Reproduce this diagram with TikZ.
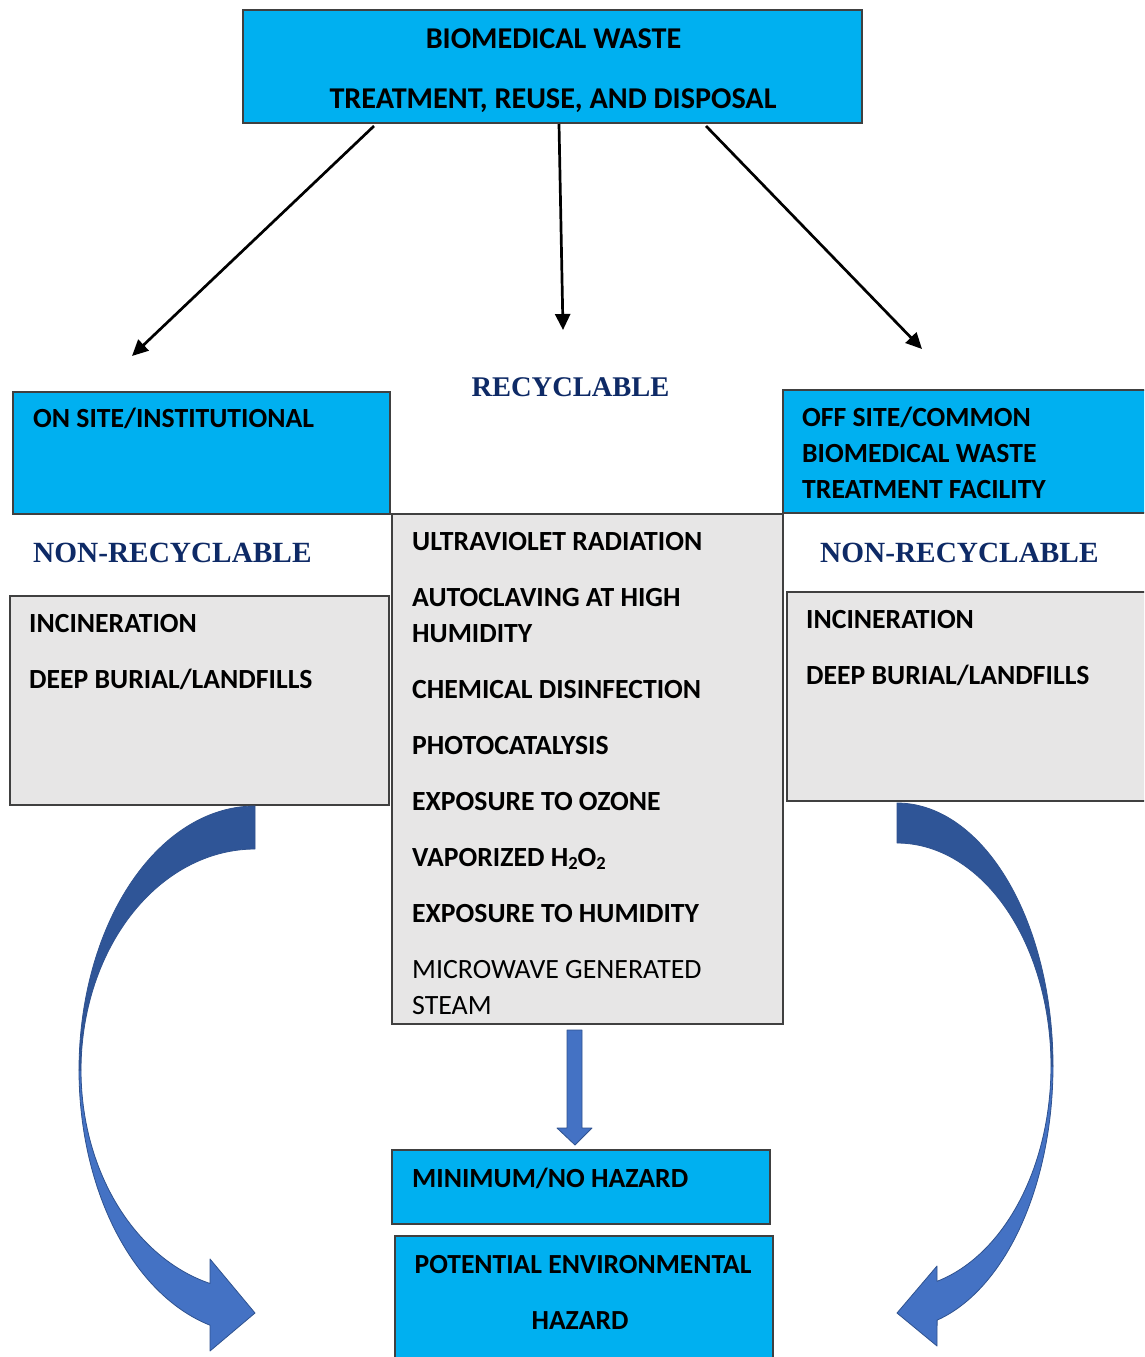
\documentclass[tikz,border=0pt]{standalone}
\usepackage{fontspec}
\setmainfont{Carlito}
\newfontfamily\timesb{Liberation Serif}
\usetikzlibrary{arrows.meta}
\definecolor{cyanbox}{HTML}{00B0F0}
\definecolor{graybox}{HTML}{E7E6E6}
\definecolor{navy}{HTML}{0E2A66}
\definecolor{bluearrow}{HTML}{4472C4}
\definecolor{darkarrow}{HTML}{2F5597}
\definecolor{arrowline}{HTML}{2F528F}
\definecolor{boxline}{HTML}{404040}
\begin{document}
\begin{tikzpicture}[x=1pt,y=-1pt,
  cbox/.style={rectangle,fill=cyanbox,draw=boxline,line width=1.2pt,anchor=north west,inner sep=0pt,outer sep=0pt},
  gbox/.style={rectangle,fill=graybox,draw=boxline,line width=1.2pt,anchor=north west,inner sep=0pt,outer sep=0pt},
  lbl/.style={anchor=base west,inner sep=0pt,font=\fontsize{27.7}{32}\selectfont\bfseries},
  rlbl/.style={anchor=base west,inner sep=0pt,font=\fontsize{27.9}{32}\selectfont},
  clbl/.style={anchor=base,inner sep=0pt,font=\fontsize{27.6}{32}\selectfont\bfseries},
  tlbl/.style={anchor=base,inner sep=0pt,font=\fontsize{30.2}{34}\selectfont\bfseries},
  slbl/.style={inner sep=0pt,text=navy,font=\timesb\fontsize{28.5}{34}\selectfont\bfseries},
  thin arrow/.style={draw=black,line width=2.7pt,-{Triangle[length=16pt,width=15pt]}},
  band dark/.style={fill=darkarrow,draw=arrowline,line width=0.8pt,line join=round},
  band light/.style={fill=bluearrow,draw=arrowline,line width=0.8pt,line join=round}]
\clip (0,0) rectangle (1144,1357);
\fill[white] (0,0) rectangle (1144,1357);

% boxes
\node[cbox,minimum width=619pt,minimum height=113pt] (top) at (243,10) {};
\node[cbox,minimum width=377pt,minimum height=122pt] (onsite) at (13,392) {};
\node[cbox,minimum width=380pt,minimum height=123pt] (offsite) at (783,390) {};
\node[gbox,minimum width=379pt,minimum height=209pt] (leftgray) at (10,596) {};
\node[gbox,minimum width=391pt,minimum height=510pt] (centergray) at (392,514) {};
\node[gbox,minimum width=380pt,minimum height=209pt] (rightgray) at (787,592) {};
\node[cbox,minimum width=378pt,minimum height=74pt] (minhaz) at (392,1150) {};
\node[cbox,minimum width=378pt,minimum height=140pt] (pothaz) at (395,1236) {};

% top text
\node[tlbl] (t1) at (553.5,48) {BIOMEDICAL WASTE};
\node[tlbl] (t2) at (553,108) {TREATMENT, REUSE, AND DISPOSAL};

% thin arrows
\coordinate (s1) at (374,126);
\coordinate (s2) at (559,124);
\coordinate (s3) at (706,126);
\coordinate (e1) at (132,356);
\coordinate (e2) at (563,330);
\coordinate (e3) at (922,349);
\draw[thin arrow] (s1) -- (e1);
\draw[thin arrow] (s2) -- (e2);
\draw[thin arrow] (s3) -- (e3);

% headings
\node[slbl,anchor=base] (rec) at (570.5,396) {RECYCLABLE};
\node[slbl,anchor=base west,font=\timesb\fontsize{29.3}{34}\selectfont\bfseries] (nrl) at (33,562) {NON-RECYCLABLE};
\node[slbl,anchor=base west,font=\timesb\fontsize{29.3}{34}\selectfont\bfseries] (nrr) at (820,562) {NON-RECYCLABLE};

% on site / off site
\node[lbl] (os) at (33,427) {ON SITE/INSTITUTIONAL};
\node[lbl] (of1) at (802,426) {OFF SITE/COMMON};
\node[lbl] (of2) at (802,462) {BIOMEDICAL WASTE};
\node[lbl] (of3) at (802,498) {TREATMENT FACILITY};

% left gray
\node[lbl] (li1) at (29,632) {INCINERATION};
\node[lbl] (li2) at (29,688) {DEEP BURIAL/LANDFILLS};
% right gray
\node[lbl] (ri1) at (806,628) {INCINERATION};
\node[lbl] (ri2) at (806,684) {DEEP BURIAL/LANDFILLS};

% center gray
\node[lbl] (c1) at (412,550) {ULTRAVIOLET RADIATION};
\node[lbl] (c2) at (412,606) {AUTOCLAVING AT HIGH};
\node[lbl] (c2b) at (412,642) {HUMIDITY};
\node[lbl] (c3) at (412,698) {CHEMICAL DISINFECTION};
\node[lbl] (c4) at (412,754) {PHOTOCATALYSIS};
\node[lbl] (c5) at (412,810) {EXPOSURE TO OZONE};
\node[lbl] (c6) at (412,866) {VAPORIZED H\raisebox{-0.12em}{\fontsize{18.5}{18}\selectfont 2}O\raisebox{-0.12em}{\fontsize{18.5}{18}\selectfont 2}};
\node[lbl] (c7) at (412,922) {EXPOSURE TO HUMIDITY};
\node[rlbl] (c8) at (412,978) {MICROWAVE GENERATED};
\node[rlbl] (c8b) at (412,1014) {STEAM};

% bottom boxes text
\node[lbl] (mh) at (412,1187) {MINIMUM/NO HAZARD};
\node[clbl] (ph1) at (583,1273) {POTENTIAL ENVIRONMENTAL};
\node[clbl] (ph2) at (580,1329) {HAZARD};

% block arrow down
\fill[band light] (567,1030) -- (582,1030) -- (582,1128) -- (592,1128) -- (575,1145) -- (557,1128) -- (567,1128) -- cycle;

% left curved arrow
\path[band light] plot[domain=180:104.8,samples=50] ({255+176*cos(\x)},{1070+264*sin(\x)})
  -- (210,1351) -- (255,1313) -- (210,1259) -- (210,1283.5)
  -- plot[domain=105:180,samples=50] ({255+174*cos(\x)},{1070+221*sin(\x)}) -- cycle;
\path[band dark] plot[domain=270:180,samples=60] ({255+176*cos(\x)},{1070+264*sin(\x)})
  -- plot[domain=180:270,samples=60] ({255+174*cos(\x)},{1070+221*sin(\x)}) -- cycle;

% right curved arrow
\path[band light] plot[domain=0:75.1,samples=50] ({897+156*cos(\x)},{1066+263*sin(\x)})
  -- (937,1346) -- (897,1313) -- (937,1266) -- (937,1281)
  -- plot[domain=74.9:0,samples=50] ({897+154*cos(\x)},{1066+223*sin(\x)}) -- cycle;
\path[band dark] plot[domain=-90:0,samples=60] ({897+156*cos(\x)},{1066+263*sin(\x)})
  -- plot[domain=0:-90,samples=60] ({897+154*cos(\x)},{1066+223*sin(\x)}) -- cycle;
\end{tikzpicture}
\end{document}
